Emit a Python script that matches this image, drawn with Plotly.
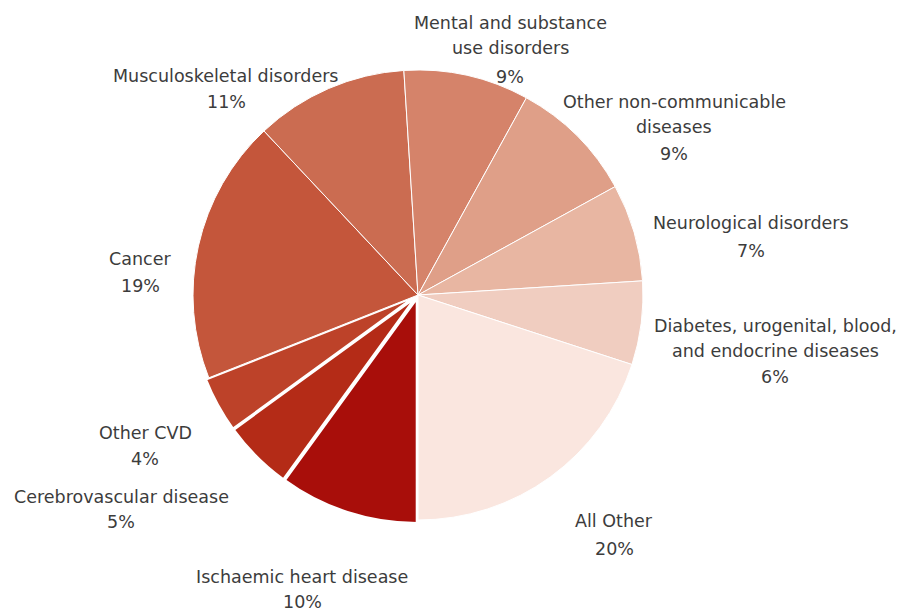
import plotly.graph_objects as go

# ---- data ----
categories = [
    "Ischaemic heart disease",
    "Cerebrovascular disease",
    "Other CVD",
    "Cancer",
    "Musculoskeletal disorders",
    "Mental and substance use disorders",
    "Other non-communicable diseases",
    "Neurological disorders",
    "Diabetes, urogenital, blood, and endocrine diseases",
    "All Other",
]
values = [10, 5, 4, 19, 11, 9, 9, 7, 6, 20]
label_lines = [
    ["Ischaemic heart disease"],
    ["Cerebrovascular disease"],
    ["Other CVD"],
    ["Cancer"],
    ["Musculoskeletal disorders"],
    ["Mental and substance", "use disorders"],
    ["Other non-communicable", "diseases"],
    ["Neurological disorders"],
    ["Diabetes, urogenital, blood,", "and endocrine diseases"],
    ["All Other"],
]

# ---- styles / layout ----
colors = ["#a80e0a", "#b42b17", "#bd4229", "#c4563b", "#cb6c51",
          "#d5836a", "#df9f88", "#e8b6a2", "#f0cdc0", "#fae6df"]
pulls = [0.015, 0.015, 0.015, 0, 0, 0, 0, 0, 0, 0]
line_w = [2.5, 2.5, 2.5, 1, 1, 1, 1, 1, 1, 1]

W, H = 904, 612
OFF = 8  # page body margin offset
cx, cy, R = 418 - OFF, 295 - OFF, 225
half = R * (1 + max(pulls))

# label line positions in window pixels (x centre, list of y centres)
label_pos = [
    (302, [576, 601]),
    (121, [496, 521]),
    (145, [432, 458]),
    (140, [258, 285]),
    (226, [75, 101]),
    (510, [22, 47, 76]),
    (674, [101, 126, 153]),
    (751, [222, 250]),
    (775, [325, 350, 376]),
    (614, [520, 548]),
]

fig = go.Figure(go.Pie(
    labels=categories,
    values=values,
    sort=False,
    direction="clockwise",
    rotation=180,
    pull=pulls,
    marker=dict(colors=colors, line=dict(color="white", width=line_w)),
    textinfo="none",
    hoverinfo="label+percent",
    showlegend=False,
    domain=dict(x=[(cx - half) / W, (cx + half) / W],
                y=[(H - cy - half) / H, (H - cy + half) / H]),
))

annotations = []
for lines, v, (x, ys) in zip(label_lines, values, label_pos):
    texts = lines + [f"{v}%"]
    for t, y in zip(texts, ys):
        annotations.append(dict(
            text=t, x=(x - OFF) / W, y=1 - (y - OFF + 1) / H,
            xref="paper", yref="paper",
            xanchor="center", yanchor="middle", showarrow=False,
            font=dict(family="DejaVu Sans", size=17.5, color="#3c3c3c"),
        ))

fig.update_layout(
    width=W, height=H,
    margin=dict(l=0, r=0, t=0, b=0),
    paper_bgcolor="white",
    plot_bgcolor="white",
    annotations=annotations,
)

fig.write_html("out.html")
